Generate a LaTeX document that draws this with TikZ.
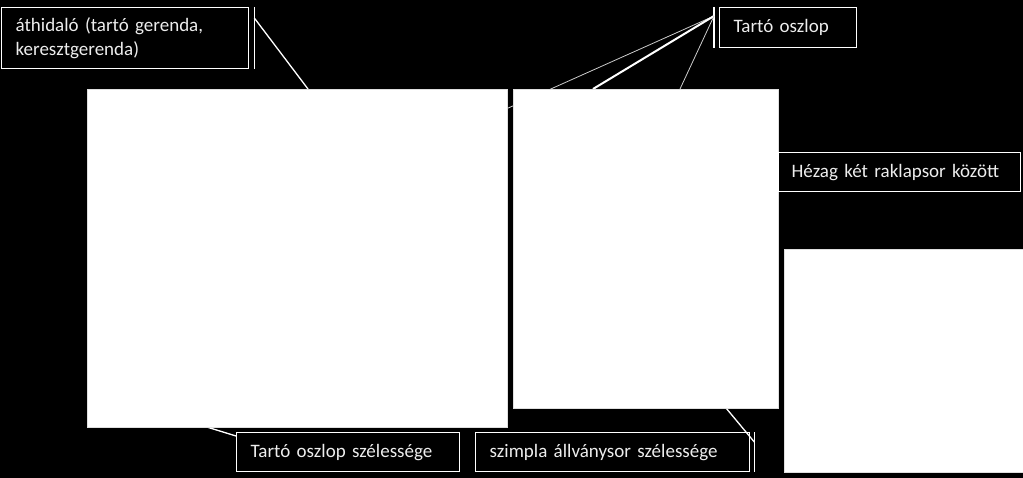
\documentclass[tikz,border=0pt]{standalone}
\usepackage{fontspec}
\setmainfont{Carlito}
\usepackage{xcolor}
\usepackage{tikz}

\begin{document}
\begin{tikzpicture}[x=1pt, y=-1pt,
    callout/.style={draw=white, line width=1.3pt, rectangle, text=white!93!black, anchor=north west, align=left, inner xsep=14pt, inner ysep=0pt, font=\fontsize{19}{24}\selectfont},
    photo/.style={draw=gray!25, fill=white, rectangle, anchor=north west, inner sep=0pt, line width=0.8pt},
    bar/.style={draw=white, line width=1.3pt},
    leader/.style={draw=white, line width=1.3pt},
    thinleader/.style={draw=white!80!black, line width=0.8pt}]
    \fill[black] (0,0) rectangle (1023,478);
    \useasboundingbox (0,0) rectangle (1023,478);

    \node[callout, minimum width=247pt, minimum height=61pt, text width=219pt] (hid) at (1,7) {áthidaló (tartó gerenda,\\keresztgerenda)};
    \node[callout, minimum width=137pt, minimum height=40pt, text width=109pt] (osz) at (719,7) {Tartó oszlop};
    \node[callout, minimum width=223pt, minimum height=39pt, text width=195pt] (szel) at (236,432) {Tartó oszlop szélessége};
    \node[callout, minimum width=274pt, minimum height=39pt, text width=246pt] (szim) at (475,432) {szimpla állványsor szélessége};

    \draw[bar] ([xshift=5pt]hid.north east) -- ([xshift=5pt]hid.south east);
    \draw[bar] ([xshift=-5pt]osz.north west) -- ([xshift=-5pt]osz.south west);
    \draw[bar] ([xshift=4pt]szim.north east) -- ([xshift=4pt]szim.south east);

    \coordinate (hidend) at (308,89);
    \coordinate (oszend1) at (506,109);
    \coordinate (oszend2) at (593,89);
    \coordinate (oszend3) at (680,89);
    \coordinate (szelend) at (197,424);
    \coordinate (szimend) at (721,402);

    \draw[leader] ([xshift=5pt,yshift=-11pt]hid.north east) -- (hidend);
    \draw[thinleader] ([xshift=-5pt,yshift=-9pt]osz.north west) -- (oszend1);
    \draw[leader, line width=2pt] ([xshift=-5pt,yshift=-9pt]osz.north west) -- (oszend2);
    \draw[thinleader] ([xshift=-5pt,yshift=-9pt]osz.north west) -- (oszend3);
    \draw[leader] (szelend) -- ([yshift=-4pt]szel.north west);
    \draw[leader] (szimend) -- ([xshift=4pt,yshift=-10pt]szim.north east);

    \node[photo, minimum width=420pt, minimum height=338pt] (picA) at (87,89) {};
    \node[photo, minimum width=265pt, minimum height=319pt] (picB) at (513,89) {};
    \node[photo, minimum width=245pt, minimum height=223pt] (picC) at (784,249) {};

    \node[callout, minimum width=242pt, minimum height=39pt, text width=216pt, inner xsep=13pt] (hez) at (778,152) {Hézag két raklapsor között};
\end{tikzpicture}
\end{document}
